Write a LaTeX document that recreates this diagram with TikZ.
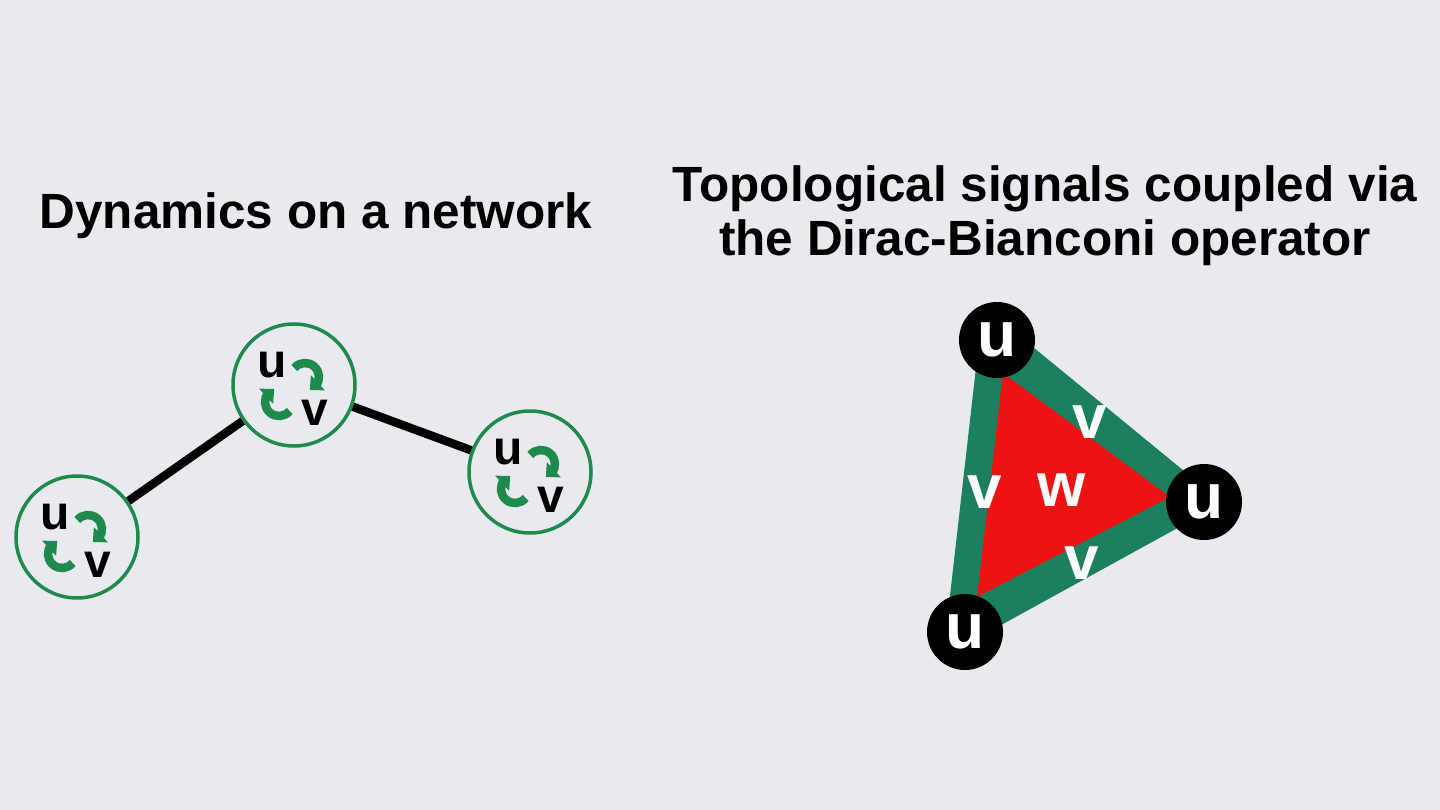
\documentclass[tikz,border=0pt]{standalone}
\usepackage{fontspec}
\setmainfont{Liberation Sans}
\usetikzlibrary{arrows.meta,calc,bending}
\definecolor{bg}{RGB}{232,234,240}
\definecolor{cellgreen}{RGB}{30,138,76}
\definecolor{trigreen}{RGB}{28,128,96}
\definecolor{trired}{RGB}{238,18,18}
\tikzset{
  cell/.style={circle, draw=cellgreen, line width=3.5pt, minimum size=122pt, inner sep=0pt},
  link/.style={line width=8.5pt, black},
  title/.style={font=\fontsize{49.5}{57}\selectfont\bfseries, anchor=base, inner sep=0pt},
  celltext/.style={font=\fontsize{48}{48}\selectfont\bfseries, inner sep=0pt},
  cyc/.style={cellgreen, line width=8.5pt, -{Triangle[length=11pt,width=20pt,flex]}},
  unode/.style={circle, fill=black, minimum size=76pt, inner sep=0pt, text=white, font=\fontsize{64}{64}\selectfont\bfseries},
  trilabel/.style={text=white, font=\fontsize{62}{62}\selectfont\bfseries, inner sep=0pt},
  uvcell/.pic={
    \node[celltext] (-u) at (-22,20) {u};
    \node[celltext] (-v) at (21,-28) {v};
    \draw[cyc] ($(11,8)+(140:14)$) arc[start angle=140, end angle=-70, radius=14];
    \draw[cyc] ($(-15,-17)+(-40:14)$) arc[start angle=-40, end angle=-250, radius=14];
  }
}
\begin{document}
\begin{tikzpicture}[x=1pt,y=1pt]
\fill[bg] (0,0) rectangle (1440,-810);
\useasboundingbox (0,0) rectangle (1440,-810);

% titles
\node[title] (t1) at (316,-229) {Dynamics on a network};
\node[title] (t2) at (1045,-202) {Topological signals coupled via};
\node[title] (t3) at (1045,-256) {the Dirac-Bianconi operator};

% left network
\node[cell] (c1) at (77,-537) {};
\node[cell] (c2) at (294,-385) {};
\node[cell] (c3) at (530,-472) {};
\draw[link] (c1) -- (c2);
\draw[link] (c2) -- (c3);
\pic (p1) at (c1) {uvcell};
\pic (p2) at (c2) {uvcell};
\pic (p3) at (c3) {uvcell};

% simplicial triangle
\coordinate (ga) at (983,-306);
\coordinate (gb) at (1223,-503);
\coordinate (gc) at (943,-657);
\coordinate (ra) at (1003,-373);
\coordinate (rb) at (1170,-497);
\coordinate (rc) at (977,-597);
\fill[trigreen] (ga) -- (gb) -- (gc) -- cycle;
\fill[trired] (ra) -- (rb) -- (rc) -- cycle;
\node[trilabel] (lv1) at (985,-492) {v};
\node[trilabel] (lw) at (1062,-490) {w};
\node[trilabel] (lv2) at (1090,-422) {v};
\node[trilabel] (lv3) at (1082,-563) {v};
\node[unode] (n1) at (997,-340) {u};
\node[unode] (n2) at (1204,-502) {u};
\node[unode] (n3) at (965,-632) {u};
\end{tikzpicture}
\end{document}
